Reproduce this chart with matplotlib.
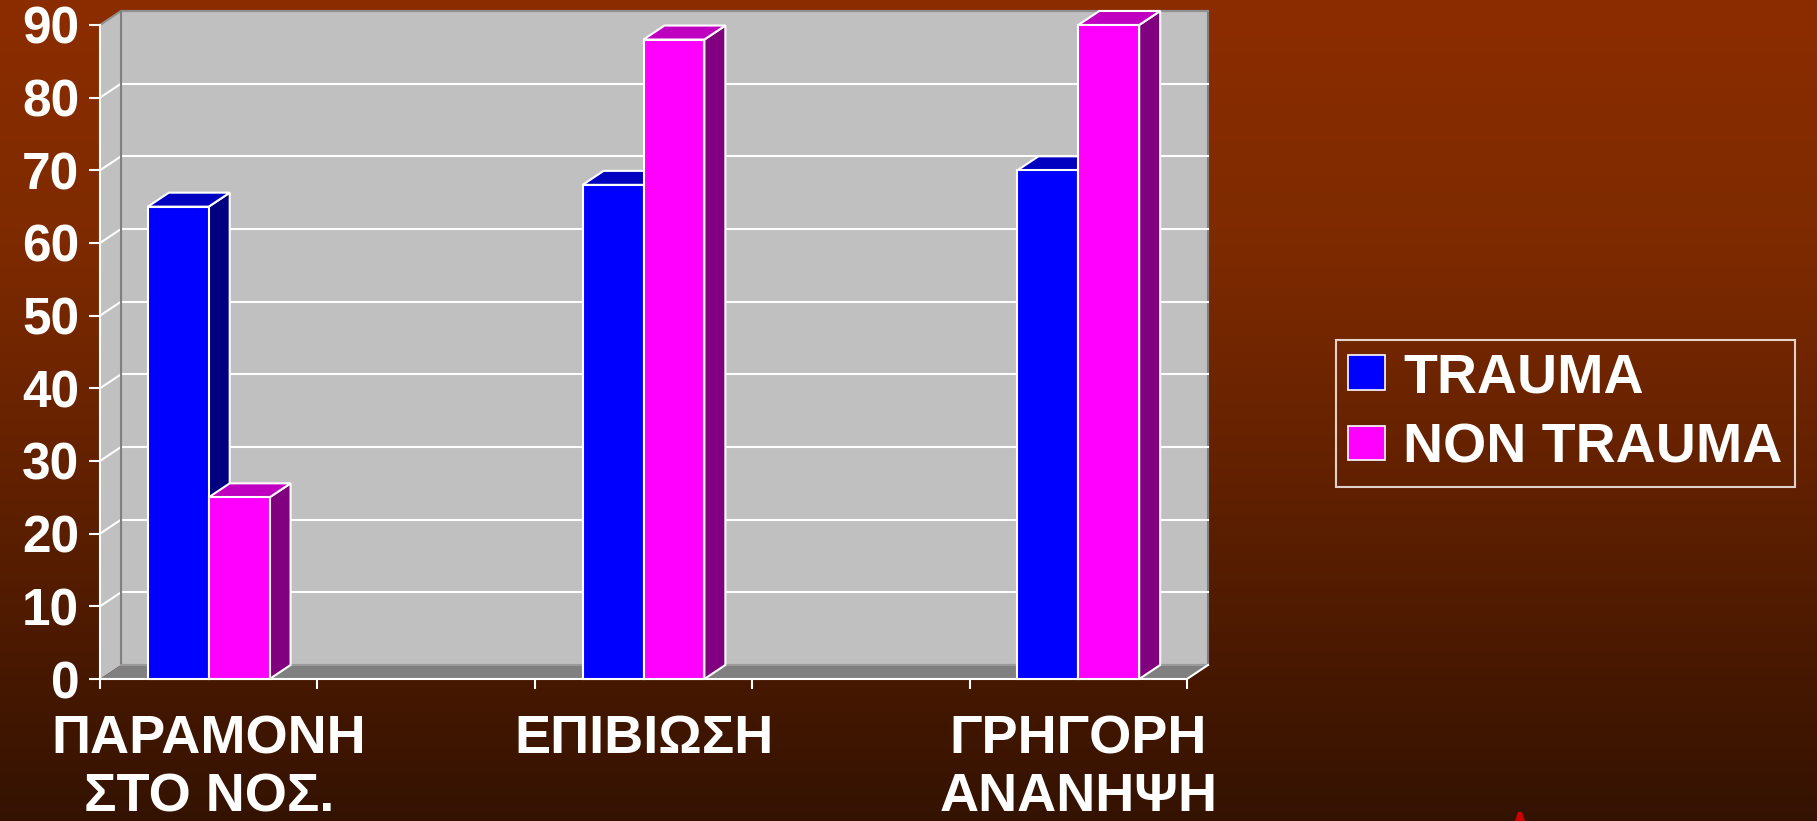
import numpy as np
import matplotlib
matplotlib.use("Agg")
import matplotlib.pyplot as plt
from matplotlib.patches import Polygon, Patch
from matplotlib.font_manager import FontProperties

# ---------------- data ----------------
categories = ['ΠΑΡΑΜΟΝΗ\nΣΤΟ ΝΟΣ.', '', 'ΕΠΙΒΙΩΣΗ', '', 'ΓΡΗΓΟΡΗ\nΑΝΑΝΗΨΗ']
series_names = ['TRAUMA', 'NON TRAUMA']
trauma = [65, np.nan, 68, np.nan, 70]
non_trauma = [25, np.nan, 88, np.nan, 90]
y_ticks = [0, 10, 20, 30, 40, 50, 60, 70, 80, 90]

# ---------------- style ----------------
plt.rcParams['font.family'] = ['Liberation Sans', 'DejaVu Sans']
plt.rcParams['font.weight'] = 'bold'

W, H = 1817, 821
fig = plt.figure(figsize=(W / 100, H / 100), dpi=100)

# gradient background
bg = fig.add_axes([0, 0, 1, 1], zorder=0)
stops_y = [0.0, 0.30, 0.60, 0.85, 1.0]
stops_c = [(140, 45, 0), (126, 42, 0), (96, 32, 0), (68, 23, 0), (52, 18, 2)]
yy = np.linspace(0, 1, 400)
cols = np.stack([np.interp(yy, stops_y, [c[k] for c in stops_c]) for k in range(3)], axis=-1) / 255.0
grad = np.repeat(cols[:, None, :], 4, axis=1)
bg.imshow(grad, aspect='auto', extent=[0, 1, 0, 1], origin='upper')
bg.set_axis_off()

# small red decoration at bottom
fig.patches.append(Polygon([[1515 / W, 0], [1518 / W, 9 / H], [1522 / W, 9 / H], [1525 / W, 0]],
                           closed=True, transform=fig.transFigure, facecolor='#CC0000',
                           edgecolor='none', zorder=2))

# main axes (front plane of the 3D chart)
left, right = 100, 1187
top, bottom = 25, 679
ax = fig.add_axes([left / W, (H - bottom) / H, (right - left) / W, (bottom - top) / H], zorder=1)
ax.set_facecolor('none')
ax.set_xlim(-0.5, len(categories) - 0.5)
ax.set_ylim(0, 90)

cat_px = (right - left) / len(categories)
val_px = (bottom - top) / 90.0
DX = 21 / cat_px
DY = 14 / val_px
x0, x1 = -0.5, len(categories) - 0.5
ymax = 90

# walls and floor
wall = '#C0C0C0'
ax.add_patch(Polygon([[x0 + DX, DY], [x1 + DX, DY], [x1 + DX, ymax + DY], [x0 + DX, ymax + DY]],
                     facecolor=wall, edgecolor='#808080', lw=1.5, clip_on=False, zorder=1))
ax.add_patch(Polygon([[x0, 0], [x0 + DX, DY], [x0 + DX, ymax + DY], [x0, ymax]],
                     facecolor=wall, edgecolor='none', clip_on=False, zorder=1))
for v in y_ticks[1:-1]:
    ax.plot([x0 + DX, x1 + DX], [v + DY, v + DY], color='white', lw=1.5, clip_on=False, zorder=2)
    ax.plot([x0, x0 + DX], [v, v + DY], color='white', lw=1.5, clip_on=False, zorder=2)
ax.plot([x0, x0 + DX, x1 + DX], [ymax, ymax + DY, ymax + DY], color='#909090', lw=1.5,
        clip_on=False, zorder=2)
ax.plot([x0 + DX, x0 + DX], [DY, ymax + DY], color='#808080', lw=1.5, clip_on=False, zorder=2)
ax.add_patch(Polygon([[x0, 0], [x1, 0], [x1 + DX, DY], [x0 + DX, DY]],
                     facecolor='#808080', edgecolor='none', clip_on=False, zorder=2))
ax.plot([x0 + DX, x1 + DX], [DY, DY], color='#A0A0A0', lw=1.2, clip_on=False, zorder=2)
ax.plot([x1, x1 + DX], [0, DY], color='white', lw=1.5, clip_on=False, zorder=2)

# 3D bars
bw = 0.28
face = {'TRAUMA': ('#0000FF', '#000080', '#0000C0'),
        'NON TRAUMA': ('#FF00FF', '#800080', '#C000C0')}
z = 3
for i in range(len(categories)):
    for name, vals, off in ((series_names[0], trauma, -bw), (series_names[1], non_trauma, 0.0)):
        h = vals[i]
        if np.isnan(h):
            continue
        fc, sc, tc = face[name]
        xa, xb = i + off, i + off + bw
        ax.add_patch(Polygon([[xb, 0], [xb + DX, DY], [xb + DX, h + DY], [xb, h]],
                             facecolor=sc, edgecolor='white', lw=1.5, clip_on=False, zorder=z))
        ax.add_patch(Polygon([[xa, h], [xb, h], [xb + DX, h + DY], [xa + DX, h + DY]],
                             facecolor=tc, edgecolor='white', lw=1.5, clip_on=False, zorder=z))
        ax.bar([xa], [h], width=bw, align='edge', color=fc, edgecolor='white', lw=1.5,
               clip_on=False, zorder=z + 0.5)
        z += 1

# axes decoration
for s in ('top', 'right'):
    ax.spines[s].set_visible(False)
for s in ('left', 'bottom'):
    ax.spines[s].set_color('white')
    ax.spines[s].set_linewidth(1.5)
    ax.spines[s].set_zorder(2.5)

ax.set_yticks(y_ticks)
ax.tick_params(axis='y', colors='white', length=8, width=1.5, pad=7, labelsize=37)
ax.set_xticks(range(len(categories)))
ax.set_xticklabels(categories, fontsize=39, color='white', linespacing=1.2)
ax.tick_params(axis='x', which='major', length=0, pad=25.5)
ax.set_xticks(np.arange(-0.5, len(categories), 1.0), minor=True)
ax.tick_params(axis='x', which='minor', colors='white', length=7, width=1.5)
for lab in ax.get_yticklabels():
    lab.set_fontweight('bold')

# legend
handles = [Patch(facecolor=face[n][0], edgecolor='white', lw=1.2) for n in series_names]
leg = fig.legend(handles, series_names, loc='upper left',
                 bbox_to_anchor=(1336 / W, 1 - 340 / H), bbox_transform=fig.transFigure,
                 borderaxespad=0, frameon=True, fancybox=False,
                 prop=FontProperties(family='Liberation Sans', weight='bold', size=40),
                 labelcolor='white', handlelength=0.67, handleheight=0.58,
                 handletextpad=0.32, borderpad=0.22, labelspacing=0.33)
leg.get_frame().set_facecolor('none')
leg.get_frame().set_edgecolor('white')
leg.get_frame().set_linewidth(1.5)
leg.set_zorder(5)

fig.savefig('out.png', dpi=100)
